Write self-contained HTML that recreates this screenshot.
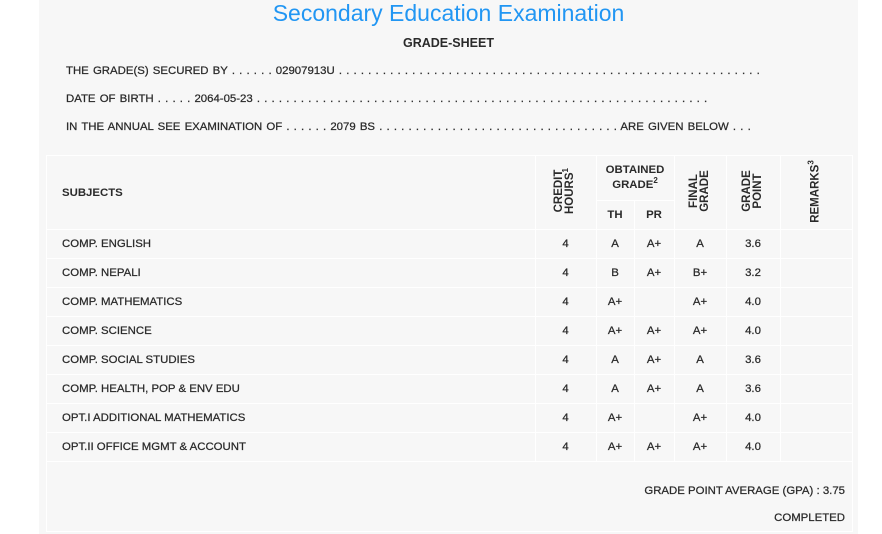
<!DOCTYPE html><html><head><style>
body{margin:0;width:882px;height:534px;background:#fff;font-family:"Liberation Sans",sans-serif;color:#2a2a2a;overflow:hidden;position:relative}
#p{position:absolute;left:39px;top:0;width:819px;height:534px;background:#f7f7f7}
.t{position:absolute;font-size:11.4px;white-space:nowrap;line-height:14px;-webkit-text-stroke:0.25px #2a2a2a}
.i{word-spacing:1px}
.b{font-weight:bold;-webkit-text-stroke:0}
.c{text-align:center}
.hl{position:absolute;height:1px;background:#fff}
.vl{position:absolute;width:1px;background:#fff}
.rot{position:absolute;transform:rotate(-90deg);transform-origin:center;font-weight:bold;font-size:11.5px;line-height:11px;text-align:center;white-space:nowrap}
</style></head><body><div id="p"></div>
<div class="t c" style="left:39px;width:819px;top:0;font-size:23px;line-height:26px;color:#2196f3;-webkit-text-stroke:0">Secondary Education Examination</div>
<div class="t c b" style="left:39px;width:819px;top:36px;font-size:12.5px">GRADE-SHEET</div>
<div class="t i" style="left:66px;top:64px">THE GRADE(S) SECURED BY . . . . . . 02907913U . . . . . . . . . . . . . . . . . . . . . . . . . . . . . . . . . . . . . . . . . . . . . . . . . . . . . . . . . .</div>
<div class="t i" style="left:66px;top:92px">DATE OF BIRTH . . . . . 2064-05-23 . . . . . . . . . . . . . . . . . . . . . . . . . . . . . . . . . . . . . . . . . . . . . . . . . . . . . . . . . . . . . .</div>
<div class="t i" style="left:66px;top:120px">IN THE ANNUAL SEE EXAMINATION OF . . . . . . 2079 BS . . . . . . . . . . . . . . . . . . . . . . . . . . . . . . . . . ARE GIVEN BELOW . . .</div>
<div class="hl" style="left:46px;width:807px;top:155px"></div>
<div class="hl" style="left:596px;width:78px;top:200px"></div>
<div class="hl" style="left:46px;width:807px;top:229px"></div>
<div class="hl" style="left:46px;width:807px;top:258px"></div>
<div class="hl" style="left:46px;width:807px;top:287px"></div>
<div class="hl" style="left:46px;width:807px;top:316px"></div>
<div class="hl" style="left:46px;width:807px;top:345px"></div>
<div class="hl" style="left:46px;width:807px;top:374px"></div>
<div class="hl" style="left:46px;width:807px;top:403px"></div>
<div class="hl" style="left:46px;width:807px;top:432px"></div>
<div class="hl" style="left:46px;width:807px;top:461px"></div>
<div class="hl" style="left:46px;width:807px;top:531px"></div>
<div class="vl" style="left:46px;top:155px;height:377px"></div>
<div class="vl" style="left:852px;top:155px;height:377px"></div>
<div class="vl" style="left:535px;top:155px;height:306px"></div>
<div class="vl" style="left:596px;top:155px;height:306px"></div>
<div class="vl" style="left:634px;top:200px;height:261px"></div>
<div class="vl" style="left:674px;top:155px;height:306px"></div>
<div class="vl" style="left:726px;top:155px;height:306px"></div>
<div class="vl" style="left:780px;top:155px;height:306px"></div>
<div class="t b" style="left:62px;top:186px">SUBJECTS</div>
<div class="rot" style="left:525px;top:180px;width:80px">CREDIT<br>HOURS<sup style="font-size:8px;line-height:0">1</sup></div>
<div class="t b c" style="left:596px;width:78px;top:163px;line-height:15px">OBTAINED<br>GRADE<sup style="font-size:8px;line-height:0">2</sup></div>
<div class="t b c" style="left:596px;width:38px;top:208px">TH</div>
<div class="t b c" style="left:634px;width:40px;top:208px">PR</div>
<div class="rot" style="left:660px;top:180px;width:80px">FINAL<br>GRADE</div>
<div class="rot" style="left:713px;top:180px;width:80px">GRADE<br>POINT</div>
<div class="rot" style="left:776px;top:186px;width:80px">REMARKS<sup style="font-size:8px;line-height:0">3</sup></div>
<div id="rows"></div>
<script>
var d=[["COMP. ENGLISH","A","A+","A","3.6"],["COMP. NEPALI","B","A+","B+","3.2"],["COMP. MATHEMATICS","A+","","A+","4.0"],["COMP. SCIENCE","A+","A+","A+","4.0"],["COMP. SOCIAL STUDIES","A","A+","A","3.6"],["COMP. HEALTH, POP &amp; ENV EDU","A","A+","A","3.6"],["OPT.I ADDITIONAL MATHEMATICS","A+","","A+","4.0"],["OPT.II OFFICE MGMT &amp; ACCOUNT","A+","A+","A+","4.0"]];
var h="";d.forEach(function(r,i){var y=237+i*29;
h+='<div class="t" style="left:62px;top:'+y+'px">'+r[0]+'</div>';
h+='<div class="t c" style="left:535px;width:61px;top:'+y+'px">4</div>';
h+='<div class="t c" style="left:596px;width:38px;top:'+y+'px">'+r[1]+'</div>';
h+='<div class="t c" style="left:634px;width:40px;top:'+y+'px">'+r[2]+'</div>';
h+='<div class="t c" style="left:674px;width:52px;top:'+y+'px">'+r[3]+'</div>';
h+='<div class="t c" style="left:726px;width:54px;top:'+y+'px">'+r[4]+'</div>';});
document.getElementById("rows").innerHTML=h;
</script>
<div class="t" style="right:37px;top:484px">GRADE POINT AVERAGE (GPA) : 3.75</div>
<div class="t" style="right:37px;top:511px">COMPLETED</div>
</body></html>
